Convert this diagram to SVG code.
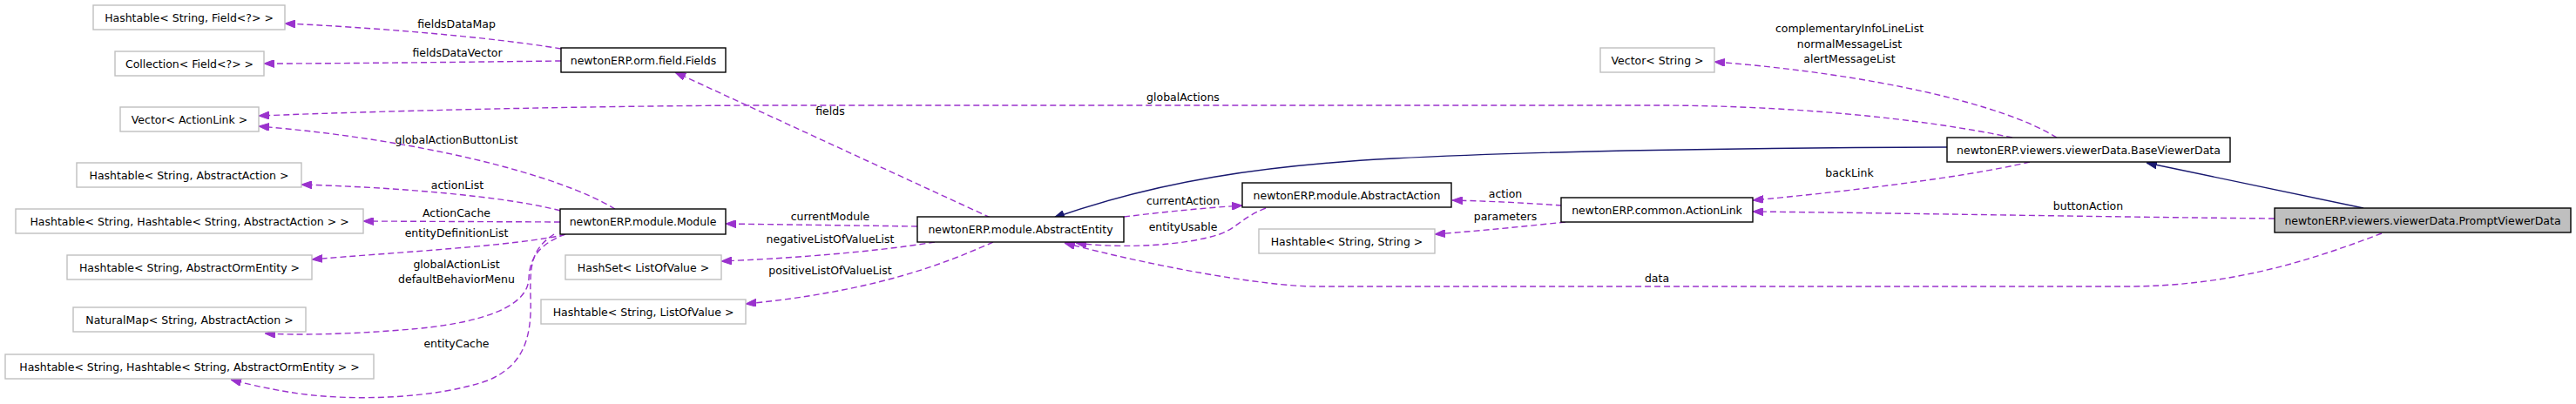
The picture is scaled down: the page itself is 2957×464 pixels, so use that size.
<svg xmlns="http://www.w3.org/2000/svg" width="2957" height="464" viewBox="0 0 2957 464">
<style>
text{font-family:"DejaVu Sans","Liberation Sans",sans-serif;font-size:12.5px;fill:#000;text-anchor:middle}
.n rect{fill:#fff;stroke:#bfbfbf;stroke-width:1.4}
.d rect{fill:#fff;stroke:#000;stroke-width:1.4}
.s rect{fill:#bfbfbf;stroke:#000;stroke-width:1.4}
.e{fill:none;stroke:#9a32cd;stroke-width:1.4;stroke-dasharray:7,4;marker-end:url(#pa)}
.i{fill:none;stroke:#191970;stroke-width:1.4;marker-end:url(#ba)}
</style>
<defs>
<marker id="pa" markerUnits="userSpaceOnUse" viewBox="0 0 12 9" refX="12" refY="4.5" markerWidth="12" markerHeight="9" orient="auto"><path d="M0,0 L12,4.5 L0,9 z" fill="#9a32cd" stroke="#9a32cd"/></marker>
<marker id="ba" markerUnits="userSpaceOnUse" viewBox="0 0 12 9" refX="12" refY="4.5" markerWidth="12" markerHeight="9" orient="auto"><path d="M0,0 L12,4.5 L0,9 z" fill="#191970" stroke="#191970"/></marker>
</defs>
<rect width="2957" height="464" fill="#fff"/>
<g id="edges">
<path class="e" d="M644,56 C560,42 420,31 327,27"/>
<path class="e" d="M644,70 C550,71 400,73 303,73"/>
<path class="e" d="M1137,250 L775,83"/>
<path class="e" d="M2310,158 C2200,135 2050,121 1900,121 L900,121 C700,121 450,127 297,133"/>
<path class="e" d="M706,240 C640,200 480,160 297,145"/>
<path class="e" d="M643,242 C580,225 450,215 346,212"/>
<path class="e" d="M643,255 L417,254"/>
<path class="e" d="M649,269 C600,282 450,290 358,298"/>
<path class="e" d="M649,269 C620,280 608,295 607,320 C606,350 560,372 460,379 C400,384 340,385 304,383"/>
<path class="e" d="M636,269 C612,285 608,300 609,340 C611,390 600,420 560,437 C500,458 400,462 330,450 C300,445 280,440 265,436"/>
<path class="e" d="M1053,260 L833,257"/>
<path class="e" d="M1073,278 C1000,290 900,297 828,300"/>
<path class="e" d="M1140,278 C1080,305 1000,335 856,349"/>
<path class="e" d="M1290,249 C1340,243 1380,239 1426,236"/>
<path class="e" d="M1453,239 C1425,250 1420,262 1400,269 C1360,282 1290,286 1235,279"/>
<path class="e" d="M2734,268 C2650,300 2560,329 2439,329 L1511,329 C1450,329 1320,305 1222,279"/>
<path class="e" d="M1793,236 C1750,233 1710,231 1667,230"/>
<path class="e" d="M1797,255 C1750,260 1700,265 1647,269"/>
<path class="e" d="M2330,186 C2250,205 2100,222 2012,230"/>
<path class="e" d="M2611,251 C2400,249 2200,245 2012,243"/>
<path class="e" d="M2361,158 C2300,120 2150,85 1968,71"/>
<path class="i" d="M2235,169 C2000,170 1750,174 1600,182 C1450,190 1330,208 1210,250"/>
<path class="i" d="M2713,239 L2464,187"/>
</g>
<g id="labels">
<text x="524" y="32">fieldsDataMap</text>
<text x="525" y="65">fieldsDataVector</text>
<text x="953" y="132">fields</text>
<text x="1358" y="116">globalActions</text>
<text x="524" y="165">globalActionButtonList</text>
<text x="525" y="217">actionList</text>
<text x="524" y="249">ActionCache</text>
<text x="524" y="272">entityDefinitionList</text>
<text x="524" y="308">globalActionList</text>
<text x="524" y="325">defaultBehaviorMenu</text>
<text x="524" y="399">entityCache</text>
<text x="953" y="253">currentModule</text>
<text x="953" y="279">negativeListOfValueList</text>
<text x="953" y="315">positiveListOfValueList</text>
<text x="1358" y="235">currentAction</text>
<text x="1358" y="265">entityUsable</text>
<text x="1728" y="227">action</text>
<text x="1728" y="253">parameters</text>
<text x="2123" y="37">complementaryInfoLineList</text>
<text x="2123" y="55">normalMessageList</text>
<text x="2123" y="72">alertMessageList</text>
<text x="2123" y="203">backLink</text>
<text x="2397" y="241">buttonAction</text>
<text x="1902" y="324">data</text>
</g>
<g id="n1" class="n"><rect x="107" y="6" width="220" height="28"/><text x="217" y="24.5">Hashtable&lt; String, Field&lt;?&gt; &gt;</text></g>
<g id="n2" class="n"><rect x="132" y="59" width="171" height="28"/><text x="217.5" y="77.5">Collection&lt; Field&lt;?&gt; &gt;</text></g>
<g id="n3" class="d"><rect x="644" y="55" width="189" height="28"/><text x="738.5" y="73.5">newtonERP.orm.field.Fields</text></g>
<g id="n4" class="n"><rect x="138" y="123" width="159" height="28"/><text x="217.5" y="141.5">Vector&lt; ActionLink &gt;</text></g>
<g id="n5" class="n"><rect x="88" y="187" width="258" height="28"/><text x="217" y="205.5">Hashtable&lt; String, AbstractAction &gt;</text></g>
<g id="n6" class="n"><rect x="18" y="240" width="399" height="28"/><text x="217.5" y="258.5">Hashtable&lt; String, Hashtable&lt; String, AbstractAction &gt; &gt;</text></g>
<g id="n7" class="d"><rect x="643" y="240" width="190" height="29"/><text x="738" y="259">newtonERP.module.Module</text></g>
<g id="n8" class="n"><rect x="77" y="293" width="281" height="28"/><text x="217.5" y="311.5">Hashtable&lt; String, AbstractOrmEntity &gt;</text></g>
<g id="n9" class="n"><rect x="649" y="293" width="179" height="28"/><text x="738.5" y="311.5">HashSet&lt; ListOfValue &gt;</text></g>
<g id="n10" class="n"><rect x="84" y="353" width="267" height="28"/><text x="217.5" y="371.5">NaturalMap&lt; String, AbstractAction &gt;</text></g>
<g id="n11" class="n"><rect x="6" y="407" width="423" height="28"/><text x="217.5" y="425.5">Hashtable&lt; String, Hashtable&lt; String, AbstractOrmEntity &gt; &gt;</text></g>
<g id="n12" class="n"><rect x="621" y="344" width="235" height="28"/><text x="738.5" y="362.5">Hashtable&lt; String, ListOfValue &gt;</text></g>
<g id="n13" class="d"><rect x="1053" y="249" width="237" height="29"/><text x="1171.5" y="268">newtonERP.module.AbstractEntity</text></g>
<g id="n14" class="d"><rect x="1426" y="210" width="240" height="28"/><text x="1546" y="228.5">newtonERP.module.AbstractAction</text></g>
<g id="n15" class="n"><rect x="1445" y="263" width="202" height="28"/><text x="1546" y="281.5">Hashtable&lt; String, String &gt;</text></g>
<g id="n16" class="n"><rect x="1837" y="55" width="131" height="28"/><text x="1902.5" y="73.5">Vector&lt; String &gt;</text></g>
<g id="n17" class="d"><rect x="2235" y="158" width="325" height="28"/><text x="2397.5" y="176.5">newtonERP.viewers.viewerData.BaseViewerData</text></g>
<g id="n18" class="d"><rect x="1792" y="227" width="220" height="28"/><text x="1902" y="245.5">newtonERP.common.ActionLink</text></g>
<g id="n19" class="s"><rect x="2611" y="239" width="340" height="28"/><text x="2781" y="257.5">newtonERP.viewers.viewerData.PromptViewerData</text></g>
</svg>
